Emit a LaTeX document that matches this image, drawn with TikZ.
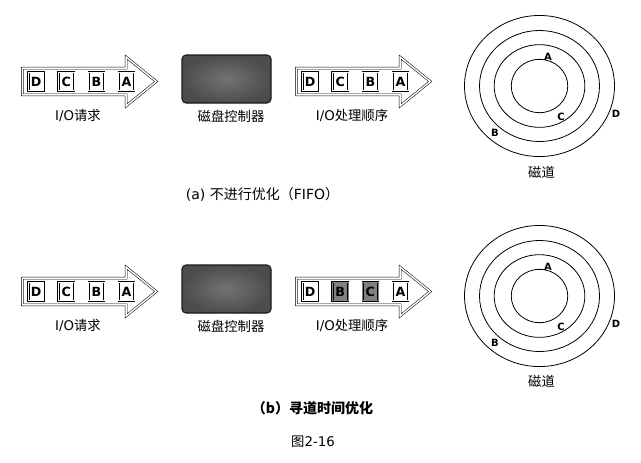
\documentclass[tikz,border=0pt]{standalone}
\usepackage{fontspec}
\setmainfont{DejaVu Sans}
\newfontfamily\cjk{Noto Sans CJK SC}
\usetikzlibrary{shapes.arrows,positioning}
\tikzset{
  ioarrow/.style = {single arrow, draw, double, double distance=1.1pt, fill=white,
                    minimum height=100.5pt, inner xsep=0pt, inner ysep=9.8pt,
                    single arrow head extend=8.25pt, single arrow tip angle=78,
                    single arrow head indent=0pt, anchor=tail},
  reqbox/.style  = {draw, double, double distance=0.5pt, line width=0.6pt, fill=white,
                    minimum width=11.5pt, minimum height=13.8pt, inner sep=0pt,
                    font=\bfseries\fontsize{9.5}{9.5}\selectfont},
  selbox/.style  = {reqbox, double=black!50, fill=black!50},
  ctrlbox/.style = {draw=black!90, line width=0.8pt, rounded corners=3pt,
                    inner color=black!55, outer color=black!70,
                    minimum width=66.75pt, minimum height=36pt},
  track/.style   = {line width=0.6pt},
  trklab/.style  = {font=\bfseries\fontsize{7.5}{7.5}\selectfont, inner sep=0pt},
  lab/.style     = {font=\fontsize{10}{10}\selectfont},
  caplab/.style  = {font=\fontsize{10.5}{10.5}\selectfont},
}

\begin{document}
\begin{tikzpicture}[x=0.75pt, y=-0.75pt]
\useasboundingbox (0,0) rectangle (641,462);

% (a) no optimisation
\node[ioarrow] (reqa) at (22,81.5) {};
\node[reqbox, right=4.5pt of reqa.tail] (ra1) {D};
\node[reqbox, right=10.5pt of ra1] (ra2) {C};
\node[reqbox, right=10.5pt of ra2] (ra3) {B};
\node[reqbox, right=10.5pt of ra3] (ra4) {A};
\node[lab] (reqlaba) at (78,116) {I/O\cjk 请求};

\node[ctrlbox] (ctla) at (226.5,79) {};
\node[lab] (ctllaba) at (231,116) {\cjk 磁盘控制器};

\node[ioarrow] (outa) at (296,81.5) {};
\node[reqbox, right=4.5pt of outa.tail] (oa1) {D};
\node[reqbox, right=10.5pt of oa1] (oa2) {C};
\node[reqbox, right=10.5pt of oa2] (oa3) {B};
\node[reqbox, right=10.5pt of oa3] (oa4) {A};
\node[lab] (outlaba) at (352,115) {I/O\cjk 处理顺序};

\coordinate (trka) at (539.5,86);
\foreach \rx/\ry in {56.25/52.9, 45/41.6, 34/31, 21.2/20}
  \draw[track] (trka) ellipse [x radius=\rx pt, y radius=\ry pt];
\node[trklab] (tAa) at (548,57) {A};
\node[trklab] (tCa) at (561,117) {C};
\node[trklab] (tDa) at (616,114) {D};
\node[trklab] (tBa) at (495,133) {B};
\node[lab] (trklaba) at (541.5,172) {\cjk 磁道};

\node[caplab] (capa) at (262.5,194) {(a) {\cjk 不进行优化（}FIFO{\cjk ）}};

% (b) seek time optimisation
\node[ioarrow] (reqb) at (22,291.5) {};
\node[reqbox, right=4.5pt of reqb.tail] (rb1) {D};
\node[reqbox, right=10.5pt of rb1] (rb2) {C};
\node[reqbox, right=10.5pt of rb2] (rb3) {B};
\node[reqbox, right=10.5pt of rb3] (rb4) {A};
\node[lab] (reqlabb) at (78,326) {I/O\cjk 请求};

\node[ctrlbox] (ctlb) at (226.5,289) {};
\node[lab] (ctllabb) at (231,326) {\cjk 磁盘控制器};

\node[ioarrow] (outb) at (296,291.5) {};
\node[reqbox, right=4.5pt of outb.tail] (ob1) {D};
\node[selbox, right=10.5pt of ob1] (ob2) {B};
\node[selbox, right=10.5pt of ob2] (ob3) {C};
\node[reqbox, right=10.5pt of ob3] (ob4) {A};
\node[lab] (outlabb) at (352,325) {I/O\cjk 处理顺序};

\coordinate (trkb) at (539.5,296);
\foreach \rx/\ry in {56.25/52.9, 45/41.6, 34/31, 21.2/20}
  \draw[track] (trkb) ellipse [x radius=\rx pt, y radius=\ry pt];
\node[trklab] (tAb) at (548,267) {A};
\node[trklab] (tCb) at (561,327) {C};
\node[trklab] (tDb) at (616,324) {D};
\node[trklab] (tBb) at (495,343) {B};
\node[lab] (trklabb) at (541.5,381) {\cjk 磁道};

\node[caplab] (capb) at (312.5,408) {\bfseries\cjk （b）寻道时间优化};
\node[lab] (figlab) at (313,442) {{\cjk 图}2-16};
\end{tikzpicture}
\end{document}
